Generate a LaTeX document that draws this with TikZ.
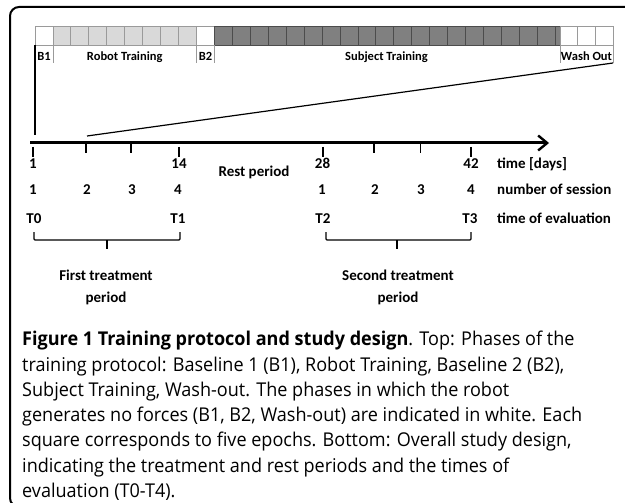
\documentclass[tikz,border=0pt]{standalone}
\usepackage{fontspec}
\setmainfont{Carlito}
\newfontfamily\capfont[FakeStretch=0.95]{Open Sans}
\usetikzlibrary{arrows.meta,positioning}
\definecolor{robotgray}{HTML}{D9D9D9}
\definecolor{subjgray}{HTML}{808080}
\definecolor{edgegray}{HTML}{9A9A9A}

\begin{document}
\begin{tikzpicture}[x=1pt,y=-1pt]
\tikzstyle{phase} = [font=\bfseries\fontsize{12.5}{14}\selectfont, inner sep=0pt, anchor=base]
\tikzstyle{lbl} = [font=\bfseries\fontsize{15}{17}\selectfont, inner sep=0pt, anchor=base]
\tikzstyle{rowname} = [lbl, anchor=base west]
\tikzstyle{square} = [draw=edgegray, line width=0.8pt]
\tikzstyle{darksquare} = [draw=black!70, line width=0.8pt, fill=subjgray]
\tikzstyle{sep} = [draw=edgegray, line width=0.8pt]
\tikzstyle{tick} = [line width=2.4pt]
\tikzstyle{thintick} = [line width=1.2pt]
\tikzstyle{bracket} = [line width=1.4pt, rounded corners=1pt]
\tikzstyle{axis} = [line width=3pt, -{Straight Barb[length=9pt,width=15pt,line width=2.4pt]}]

\useasboundingbox (0,0) rectangle (625,503);
\clip (0,0) rectangle (625,503);

%frame
\draw [line width=2pt, rounded corners=9pt] (640,7) -- (10,7) -- (10,507) -- (640,507);

%squares
\draw [square, fill=white] (35,26) rectangle (52.9,45);
\foreach \i in {0,...,7}
  \draw [square, fill=robotgray] (52.9+\i*17.94,26) rectangle ++(17.94,19);
\draw [square, fill=white] (196.5,26) rectangle (214.4,45);
\foreach \i in {0,...,18}
  \draw [darksquare] (214.4+\i*17.94,26) rectangle ++(17.94,19);
\draw [darksquare] (555.3,26) rectangle (560,45);
\foreach \i in {0,1,2}
  \draw [square, fill=white] (560+\i*17.67,26) rectangle ++(17.67,19);
\foreach \x in {52.9,196.5,214.4,560,613}
  \draw [sep] (\x,45) -- (\x,63);

%phase labels
\node (b1) [phase] at (44,61) {B1};
\node (robot) [phase] at (124.7,61) {Robot Training};
\node (b2) [phase] at (205.5,61) {B2};
\node (subject) [phase] at (386.5,61) {Subject Training};
\node (wash) [phase] at (586.5,61) {Wash Out};

%zoom lines
\coordinate (barleft) at (35,45);
\coordinate (dayone) at (35,135);
\coordinate (washcorner) at (613,63);
\coordinate (daytwo) at (87,136);
\draw [line width=1.5pt] (barleft) -- (dayone);
\draw [line width=1.2pt] (washcorner) -- (daytwo);

%time axis
\coordinate (axstart) at (30,143);
\coordinate (axend) at (549,143);
\draw [axis] (axstart) -- (axend);
\foreach \x in {33,179,322.7,470.7}
  \draw [tick] (\x,147) -- (\x,157);
\foreach \x in {86,131,374,420.7}
  \draw [thintick] (\x,143) -- (\x,153);

%nodes
\node (d1) [lbl] at (33,168) {1};
\node (d14) [lbl] at (179,168) {14};
\node (d28) [lbl] at (322.5,168) {28};
\node (d42) [lbl] at (471,168) {42};
\node (rest) [lbl] at (254,177) {Rest period};

\node (sa1) [lbl] at (33,195) {1};
\node (sa2) [lbl] at (87,195) {2};
\node (sa3) [lbl] at (132,195) {3};
\node (sa4) [lbl] at (178,195) {4};
\node (sb1) [lbl] at (322,195) {1};
\node (sb2) [lbl] at (375,195) {2};
\node (sb3) [lbl] at (421,195) {3};
\node (sb4) [lbl] at (471,195) {4};

\node (t0) [lbl] at (34,223) {T0};
\node (t1) [lbl] at (178,223) {T1};
\node (t2) [lbl] at (323,223) {T2};
\node (t3) [lbl] at (470,223) {T3};

\node (days) [rowname] at (497,168) {time [days]};
\node (session) [rowname] at (497,195) {number of session};
\node (evaluation) [rowname] at (497,223) {time of evaluation};

%brackets
\draw [bracket] (34,232) -- (34,240) -- (180,240) -- (180,232);
\draw [bracket] (107,240) -- (107,249);
\draw [bracket] (326,232) -- (326,240) -- (471,240) -- (471,232);
\draw [bracket] (397,240) -- (397,249);

\node (first) [lbl] at (106,280) {First treatment};
\node (firstp) [lbl] at (106,302) {period};
\node (second) [lbl] at (398,280) {Second treatment};
\node (secondp) [lbl] at (398,302) {period};

%caption
\node (caption) [anchor=north west, align=left, inner sep=0pt,
  font=\capfont\fontsize{19}{25.3}\selectfont] at (22,331) {%
\textbf{Figure 1 Training protocol and study design}. Top: Phases of the\\
training protocol: Baseline 1 (B1), Robot Training, Baseline 2 (B2),\\
Subject Training, Wash-out. The phases in which the robot\\
generates no forces (B1, B2, Wash-out) are indicated in white. Each\\
square corresponds to five epochs. Bottom: Overall study design,\\
indicating the treatment and rest periods and the times of\\
evaluation (T0-T4).};
\end{tikzpicture}
\end{document}
